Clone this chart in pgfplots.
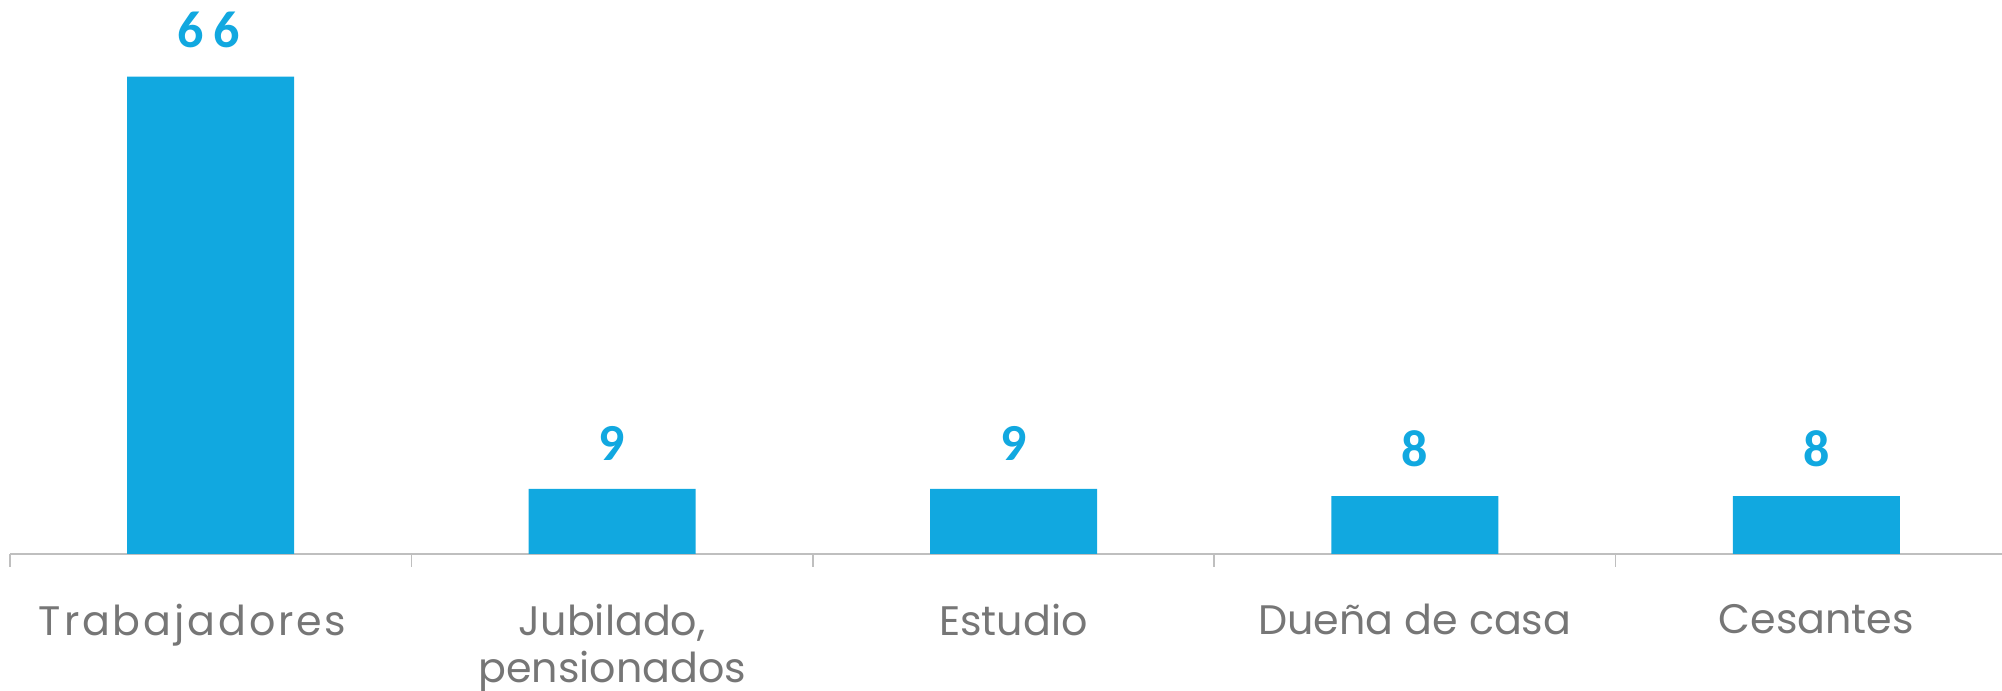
\documentclass[border=0pt]{standalone}
\usepackage{fontspec}
\usepackage{pgfplots}
\pgfplotsset{compat=1.18}
\usetikzlibrary{calc}
\setmainfont{Poppins}
\newfontfamily\valfont{Carlito}
\definecolor{barblue}{RGB}{17,168,224}
\definecolor{labgray}{RGB}{118,118,118}
\definecolor{axgray}{RGB}{191,191,191}
\begin{document}
% 1 px of the 2002x691 reference = 0.25pt
\begin{tikzpicture}
\begin{axis}[
  name=ax,
  scale only axis,
  width=501.75pt, height=138.5pt,
  xmin=-0.5, xmax=4.5,
  ymin=0, ymax=76.6,
  axis x line=bottom,
  axis y line=none,
  axis line style={axgray, line width=0.5pt, -},
  xtick={0,1,2,3,4},
  xticklabels={{\mbox{\addfontfeature{LetterSpace=7}Trabajadores\kern9pt}}, {Jubilado,\\pensionados}, Estudio, Due\~na de casa, Cesantes},
  major tick length=0pt,
  minor xtick={-0.5,0.5,1.5,2.5,3.5,4.5},
  minor tick length=3.2pt,
  tick align=outside,
  minor tick style={axgray, line width=0.4pt},
  xticklabel style={font=\fontsize{10.3}{11.8}\selectfont, text=labgray,
    align=center, anchor=north, yshift=-9pt},
  ybar, bar width=41.75pt,
  point meta=explicit symbolic,
  nodes near coords={\valfont\bfseries\pgfplotspointmeta},
  every node near coord/.append style={font=\valfont\bfseries\fontsize{13}{15}\selectfont,
    text=barblue, anchor=south, inner sep=0pt, yshift=7pt},
  clip=false,
]
\addplot[fill=barblue, draw=none] coordinates {(0,66)[6\kern2.5pt 6\kern1pt] (1,9)[9] (2,9)[9] (3,8)[8] (4,8)[8]};
\coordinate (o) at (rel axis cs:0,0);
\end{axis}
\pgfresetboundingbox
\path[use as bounding box] ($(o)+(-2.5pt,-34.25pt)$) rectangle ($(o)+(498pt,138.5pt)$);
\end{tikzpicture}
\end{document}
